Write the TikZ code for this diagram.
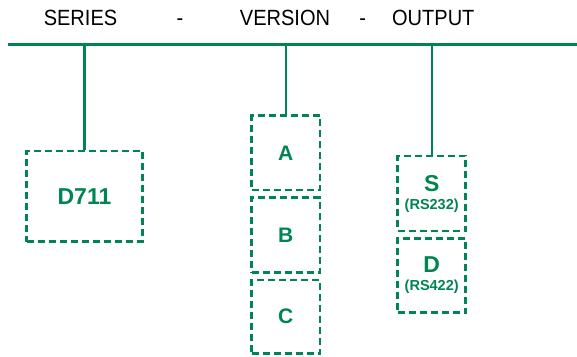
\documentclass[tikz,border=0pt]{standalone}
\usepackage{fontspec}
\setmainfont{Liberation Sans}
\definecolor{dgreen}{RGB}{0,133,82}
\begin{document}
\begin{tikzpicture}[x=1pt,y=-1pt,
  hdr/.style={anchor=base,inner sep=0pt,text=black,font=\fontsize{22}{22}\selectfont},
  conn/.style={draw=dgreen,line width=2.4pt},
  optbox/.style={draw=dgreen,line width=2.6pt,dash pattern=on 7pt off 4pt,
     rectangle,inner sep=0pt,text=dgreen,align=center,font=\bfseries}
]
\useasboundingbox (0,0) rectangle (577,356);
% header
\node[hdr] (tseries) at (80.5,25) {\scalebox{0.91}[1]{SERIES}};
\node[hdr] (tdash1) at (180,25) {\scalebox{0.91}[1]{-}};
\node[hdr] (tversion) at (285,25) {\scalebox{0.91}[1]{VERSION}};
\node[hdr] (tdash2) at (362.7,25) {\scalebox{0.91}[1]{-}};
\node[hdr] (toutput) at (433.3,25) {\scalebox{0.91}[1]{OUTPUT}};
% main line
\coordinate (lstart) at (8,44.3);
\coordinate (lend) at (577,44.3);
\draw[conn] (lstart) -- (lend);
% boxes
\node[optbox,minimum width=115.6pt,minimum height=90.7pt,
  font=\bfseries\fontsize{23}{23}\selectfont] (d711) at (84.5,196.4) {D711};
\node[optbox,minimum width=68.3pt,minimum height=74.3pt,
  font=\bfseries\fontsize{21}{21}\selectfont] (va) at (285.8,152.9) {A};
\node[optbox,minimum width=68.3pt,minimum height=75pt,
  font=\bfseries\fontsize{21}{21}\selectfont] (vb) at (285.8,235.2) {B};
\node[optbox,minimum width=68.3pt,minimum height=73.3pt,
  font=\bfseries\fontsize{21}{21}\selectfont] (vc) at (285.8,316.7) {C};
\node[optbox,minimum width=68pt,minimum height=75pt] (os) at (431.7,193.5)
  {{\fontsize{23}{23}\selectfont S}\\[6pt]{\fontsize{14.5}{14.5}\selectfont (RS232)}};
\node[optbox,minimum width=68pt,minimum height=74.4pt] (od) at (431.7,275.5)
  {{\fontsize{23}{23}\selectfont D}\\[6pt]{\fontsize{14.5}{14.5}\selectfont (RS422)}};
% connectors
\coordinate (jseries) at (d711.north |- lstart);
\coordinate (jversion) at (va.north |- lstart);
\coordinate (joutput) at (os.north |- lstart);
\draw[conn] (jseries) -- (d711.north);
\draw[conn] (jversion) -- (va.north);
\draw[conn] (joutput) -- (os.north);
\end{tikzpicture}
\end{document}
